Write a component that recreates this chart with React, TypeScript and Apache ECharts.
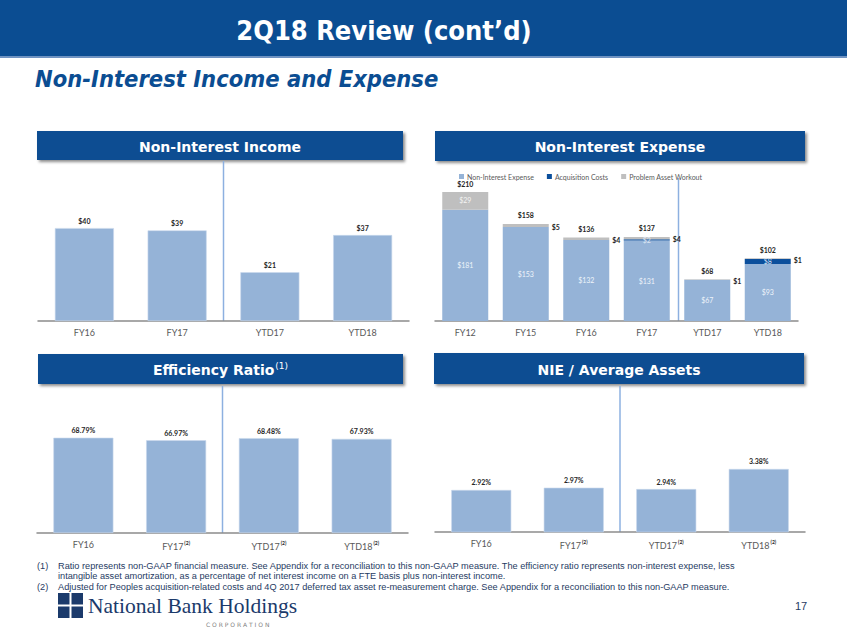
import React, { useEffect, useRef } from "react";
import * as echarts from "echarts";

// ---- data ----
const incomeCats = ["FY16", "FY17", "YTD17", "YTD18"];
const incomeVals = [40, 39, 21, 37];

const nieCats = ["FY12", "FY15", "FY16", "FY17", "YTD17", "YTD18"];
const nieBase = [181, 153, 132, 131, 67, 93];
const nieAcq = [0, 0, 0, 2, 0, 8];
const nieProblem = [29, 5, 4, 4, 1, 1];
const nieTotals = [210, 158, 136, 137, 68, 102];

const effCats = ["FY16", "FY17", "YTD17", "YTD18"];
const effNotes = ["", "(2)", "(2)", "(2)"];
const effVals = [68.79, 66.97, 68.48, 67.93];

const aaCats = ["FY16", "FY17", "YTD17", "YTD18"];
const aaNotes = ["", "(2)", "(2)", "(2)"];
const aaVals = [2.92, 2.97, 2.94, 3.38];

const footnotes = [
  ["(1)", "Ratio represents non-GAAP financial measure. See Appendix for a reconciliation to this non-GAAP measure. The efficiency ratio represents non-interest expense, less"],
  ["", "intangible asset amortization, as a percentage of net interest income on a FTE basis plus non-interest income."],
  ["(2)", "Adjusted for Peoples acquisition-related costs and 4Q 2017 deferred tax asset re-measurement charge. See Appendix for a reconciliation to this non-GAAP measure."],
];

const NAVY = "#0B4D92";
const BAR = "#95B3D7";
const ACQ = "#0B4F9C";
const GRAY = "#BFBFBF";
const LBLFONT = "Lato, 'DejaVu Sans', sans-serif";

const grids = [
  { left: 38, top: 170, width: 371, height: 151 },
  { left: 435, top: 167.5, width: 363, height: 153.5 },
  { left: 37, top: 394.5, width: 371, height: 138.5 },
  { left: 435, top: 395, width: 370, height: 137 },
];

const valLabel = (fmt: (v: number) => string) => ({
  show: true,
  position: "top" as const,
  distance: 4,
  fontSize: 7,
  fontWeight: "bold" as const,
  color: "#262626",
  fontFamily: LBLFONT,
  formatter: (p: any) => fmt(p.value),
});

const catAxis = (gridIndex: number, data: string[], notes?: string[]) => ({
  type: "category" as const,
  gridIndex,
  data,
  axisLine: { show: true, lineStyle: { color: "#8C8C8C", width: 1.5 } },
  axisTick: { show: false },
  axisLabel: {
    margin: 7,
    fontSize: 9,
    color: "#595959",
    fontFamily: LBLFONT,
    formatter: (v: string, i: number) =>
      notes && notes[i] ? `{a|${v}}{s|${notes[i]}}` : `{a|${v}}`,
    rich: {
      a: { fontSize: 9, color: "#595959", fontFamily: LBLFONT },
      s: { fontSize: 5, color: "#262626", fontWeight: "bold", fontFamily: LBLFONT, padding: [0, 0, 7, 1] },
    },
  },
});

const valAxis = (gridIndex: number, min: number, max: number) => ({
  type: "value" as const,
  gridIndex,
  min,
  max,
  show: false,
  splitLine: { show: false },
});

function panelHeader(x: number, y: number, w: number, h: number, text: string, rich?: any) {
  return {
    type: "group",
    children: [
      {
        type: "rect",
        shape: { x, y, width: w, height: h },
        style: {
          fill: NAVY,
          shadowBlur: 3,
          shadowOffsetX: 2,
          shadowOffsetY: 2,
          shadowColor: "rgba(0,0,0,0.45)",
        },
      },
      {
        type: "text",
        x: x + w / 2,
        y: y + h / 2 + 1,
        style: {
          text,
          fill: "#fff",
          font: "bold 14px 'DejaVu Sans', sans-serif",
          align: "center",
          verticalAlign: "middle",
          rich,
        },
      },
    ],
  };
}

function divider(g: any, top: number) {
  const x = g.left + g.width / 2;
  return {
    type: "line",
    shape: { x1: x, y1: top, x2: x, y2: g.top + g.height },
    style: { stroke: "#8DB0E0", lineWidth: 1.5 },
  };
}

export default function App() {
  const ref = useRef<HTMLDivElement>(null);
  useEffect(() => {
    if (!ref.current) return;
    const chart = echarts.init(ref.current, undefined, { renderer: "svg" });
    const nieDivX = grids[1].left + (grids[1].width * 4) / 6 + 1.5;
    const option: any = {
      animation: false,
      backgroundColor: "#fff",
      grid: grids.map((g) => ({ ...g, containLabel: false })),
      legend: {
        data: ["Non-Interest Expense", "Acquisition Costs", "Problem Asset Workout"],
        left: 454,
        top: 168,
        itemWidth: 5,
        itemHeight: 5,
        itemGap: 13,
        icon: "rect",
        textStyle: { fontSize: 7, color: "#595959", fontFamily: LBLFONT, padding: [0, 0, 0, -2] },
      },
      xAxis: [
        catAxis(0, incomeCats),
        catAxis(1, nieCats),
        catAxis(2, effCats, effNotes),
        catAxis(3, aaCats, aaNotes),
      ],
      yAxis: [valAxis(0, 0, 65), valAxis(1, 0, 250), valAxis(2, 0, 100), valAxis(3, 2, 5)],
      series: [
        {
          type: "bar",
          xAxisIndex: 0,
          yAxisIndex: 0,
          data: incomeVals,
          barWidth: 59,
          itemStyle: { color: BAR, borderColor: "#C9D8EC", borderWidth: 0.6 },
          label: valLabel((v) => `$${v}`),
        },
        {
          name: "Non-Interest Expense",
          type: "bar",
          stack: "nie",
          xAxisIndex: 1,
          yAxisIndex: 1,
          data: nieBase,
          barWidth: 46,
          itemStyle: { color: BAR },
          label: {
            show: true,
            position: "inside",
            fontSize: 7,
            color: "#EEF3FA",
            fontFamily: LBLFONT,
            formatter: (p: any) => `$${p.value}`,
          },
        },
        {
          name: "Acquisition Costs",
          type: "bar",
          stack: "nie",
          xAxisIndex: 1,
          yAxisIndex: 1,
          data: nieAcq,
          barWidth: 46,
          itemStyle: { color: ACQ },
          label: {
            show: true,
            position: "inside",
            fontSize: 7,
            color: "#DDE6F3",
            fontFamily: LBLFONT,
            formatter: (p: any) => (p.value ? `$${p.value}` : ""),
          },
        },
        {
          name: "Problem Asset Workout",
          type: "bar",
          stack: "nie",
          xAxisIndex: 1,
          yAxisIndex: 1,
          data: nieProblem.map((v, i) =>
            i === 0
              ? { value: v, label: { position: "inside", color: "#F4F4F4", fontWeight: "normal", offset: [0, -1] } }
              : v
          ),
          barWidth: 46,
          itemStyle: { color: GRAY },
          label: {
            show: true,
            position: "right",
            distance: 3,
            offset: [0, 1],
            fontSize: 7,
            fontWeight: "bold",
            color: "#262626",
            fontFamily: LBLFONT,
            formatter: (p: any) => `$${p.value}`,
          },
        },
        {
          name: "Total",
          type: "bar",
          stack: "nie",
          xAxisIndex: 1,
          yAxisIndex: 1,
          data: nieTotals.map(() => 0),
          barWidth: 46,
          itemStyle: { color: "transparent" },
          label: {
            show: true,
            position: "top",
            distance: 5,
            fontSize: 7,
            fontWeight: "bold",
            color: "#262626",
            fontFamily: LBLFONT,
            formatter: (p: any) => `$${nieTotals[p.dataIndex]}`,
          },
        },
        {
          type: "bar",
          xAxisIndex: 2,
          yAxisIndex: 2,
          data: effVals,
          barWidth: 60,
          itemStyle: { color: BAR, borderColor: "#C9D8EC", borderWidth: 0.6 },
          label: valLabel((v) => `${v.toFixed(2)}%`),
        },
        {
          type: "bar",
          xAxisIndex: 3,
          yAxisIndex: 3,
          data: aaVals,
          barWidth: 60,
          itemStyle: { color: BAR, borderColor: "#C9D8EC", borderWidth: 0.6 },
          label: valLabel((v) => `${v.toFixed(2)}%`),
        },
      ],
      graphic: [
        // top banner
        { type: "rect", shape: { x: 0, y: 0, width: 847, height: 56 }, style: { fill: NAVY } },
        { type: "rect", shape: { x: 0, y: 56, width: 847, height: 2 }, style: { fill: "#6F93C2" } },
        {
          type: "text",
          x: 384,
          y: 30,
          style: {
            text: "2Q18 Review (cont\u2019d)",
            fill: "#fff",
            font: "bold 27px 'DejaVu Sans Condensed', 'Liberation Sans Narrow', sans-serif",
            align: "center",
            verticalAlign: "middle",
          },
        },
        {
          type: "text",
          x: 35,
          y: 79,
          style: {
            text: "Non-Interest Income and Expense",
            fill: NAVY,
            font: "italic bold 23.5px 'DejaVu Sans Condensed', 'Liberation Sans Narrow', sans-serif",
            align: "left",
            verticalAlign: "middle",
          },
        },
        panelHeader(37, 131, 366, 29, "Non-Interest Income"),
        panelHeader(435, 131, 370, 30, "Non-Interest Expense"),
        panelHeader(38, 354, 365, 30, "{a|Efficiency Ratio}{b|(1)}", {
          a: { fill: "#fff", font: "bold 14px 'DejaVu Sans', sans-serif" },
          b: { fill: "#fff", font: "9px 'DejaVu Sans', sans-serif", padding: [0, 0, 8, 1] },
        }),
        panelHeader(434, 353, 370, 31, "NIE / Average Assets"),
        divider(grids[0], 161),
        {
          type: "line",
          shape: { x1: nieDivX, y1: 178, x2: nieDivX, y2: grids[1].top + grids[1].height },
          style: { stroke: "#8DB0E0", lineWidth: 1.5 },
        },
        divider(grids[2], 386),
        divider(grids[3], 386),
        // footnotes
        ...footnotes.flatMap(([n, t], i) => [
          {
            type: "text",
            x: 37,
            y: 565.5 + i * 10.7,
            style: {
              text: n,
              fill: "#1F3B63",
              font: "9.2px 'Liberation Sans Narrow', sans-serif",
              verticalAlign: "middle",
            },
          },
          {
            type: "text",
            x: 58,
            y: 565.5 + i * 10.7,
            style: {
              text: t,
              fill: "#1F3B63",
              font: "9.2px 'Liberation Sans Narrow', sans-serif",
              verticalAlign: "middle",
            },
          },
        ]),
        // logo
        { type: "rect", shape: { x: 58, y: 593, width: 11.5, height: 11.5 }, style: { fill: "#1B3A6B" } },
        { type: "rect", shape: { x: 71.5, y: 593, width: 11.5, height: 11.5 }, style: { fill: "#1B3A6B" } },
        { type: "rect", shape: { x: 58, y: 606.5, width: 11.5, height: 11.5 }, style: { fill: "#1B3A6B" } },
        { type: "rect", shape: { x: 71.5, y: 606.5, width: 11.5, height: 11.5 }, style: { fill: "#1B3A6B" } },
        {
          type: "text",
          x: 88,
          y: 606,
          style: {
            text: "National Bank Holdings",
            fill: "#1B3A6B",
            font: "21.5px 'Liberation Serif', serif",
            verticalAlign: "middle",
          },
        },
        {
          type: "text",
          x: 206,
          y: 624,
          style: {
            text: "C O R P O R A T I O N",
            fill: "#7F7F7F",
            font: "6px 'DejaVu Sans', sans-serif",
            verticalAlign: "middle",
          },
        },
        {
          type: "text",
          x: 795,
          y: 606,
          style: {
            text: "17",
            fill: "#1F3B63",
            font: "11px 'Liberation Sans Narrow', sans-serif",
            verticalAlign: "middle",
          },
        },
      ],
    };
    chart.setOption(option);
    return () => chart.dispose();
  }, []);
  return (
    <div
      ref={ref}
      style={{ position: "absolute", left: 0, top: 0, width: 847, height: 635 }}
    />
  );
}
